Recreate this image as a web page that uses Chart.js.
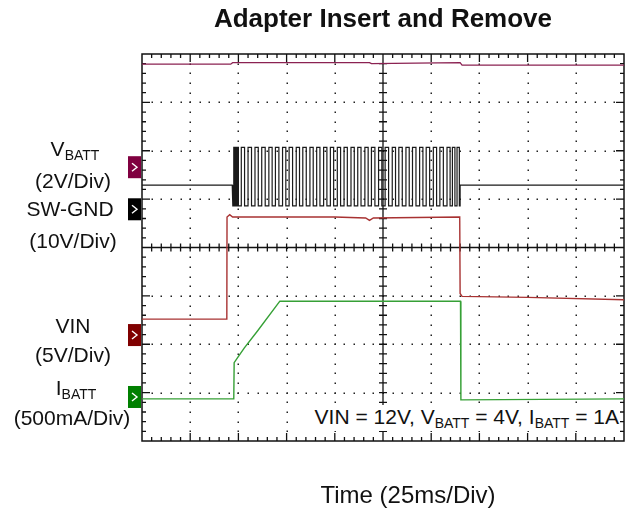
<!DOCTYPE html>
<html>
<head>
<meta charset="utf-8">
<script src="https://cdn.jsdelivr.net/npm/chart.js@4.4.1/dist/chart.umd.min.js"></script>
<style>
  body { margin: 0; background: #fff; }
  #wrap { position: relative; width: 635px; height: 510px; font-family: "Liberation Sans", Arial, sans-serif; color: #111; }
  .lbl { position: absolute; transform: translate(-50%, -50%); white-space: nowrap; font-size: 21px; }
  .lbl sub { font-size: 14px; vertical-align: -4px; }
  #note { position: absolute; right: 15px; top: 405px; font-size: 21px; line-height: 24px; white-space: nowrap; background: #fff; padding: 0 1px 2px 2px; }
  #note sub { font-size: 14px; vertical-align: -4px; line-height: 0; }
  #xt { position: absolute; left: 408px; top: 495px; transform: translate(-50%, -50%); font-size: 24px; white-space: nowrap; }
</style>
</head>
<body>
<div id="wrap">
  <canvas id="scope" width="635" height="510"></canvas>
  <div class="lbl" style="left:75px;top:150px">V<sub>BATT</sub></div>
  <div class="lbl" style="left:73px;top:181px">(2V/Div)</div>
  <div class="lbl" style="left:70px;top:209px">SW-GND</div>
  <div class="lbl" style="left:73px;top:241px">(10V/Div)</div>
  <div class="lbl" style="left:73px;top:326px">VIN</div>
  <div class="lbl" style="left:73px;top:355px">(5V/Div)</div>
  <div class="lbl" style="left:76px;top:389px">I<sub>BATT</sub></div>
  <div class="lbl" style="left:72px;top:418px">(500mA/Div)</div>
  <div id="note">VIN = 12V, V<sub>BATT</sub> = 4V, I<sub>BATT</sub> = 1A</div>
  <div id="xt">Time (25ms/Div)</div>
</div>
<script>
// time in ms (25 ms/div, 10 div), amplitude in screen divisions (8 div)
const vbattT = [0, 46, 47, 118, 119, 165, 166, 250];
const vbattV = [7.79, 7.79, 7.82, 7.82, 7.8, 7.82, 7.77, 7.77];

const swBase = 5.29;
const swLow = 4.86;
const swHigh = 6.07;
const swRise = [47.6, 48.5, 49.4, 51.5, 55.0, 58.6, 62.1, 65.8, 69.2, 72.9, 76.3, 80.0, 83.4, 87.1, 90.6, 94.2, 97.7, 101.3,
  104.8, 108.4, 111.9, 115.6, 119.0, 122.7, 126.1, 129.8, 133.2, 136.9, 140.3, 144.0, 147.4, 151.1, 154.5, 158.2, 161.0, 163.4];
const swFall = [48.0, 48.9, 50.0, 53.2, 56.8, 60.3, 63.9, 67.5, 71.0, 74.6, 78.1, 81.7, 85.2, 88.8, 92.3, 95.9, 99.4, 103.0,
  106.5, 110.1, 113.6, 117.3, 120.8, 124.4, 127.9, 131.5, 135.0, 138.6, 142.1, 145.7, 149.2, 152.8, 156.3, 159.8, 162.3, 164.6];
const swStart = 46.8;
const swEnd = 165.0;

const vinT = [0, 44.0, 44.1, 45.5, 47, 100, 116, 118, 120, 164.8, 165.0, 166, 200, 250];
const vinV = [2.52, 2.52, 4.63, 4.68, 4.63, 4.63, 4.61, 4.56, 4.61, 4.63, 3.05, 2.99, 2.97, 2.92];

const ibattT = [0, 47.6, 47.8, 49.5, 53, 60, 71.5, 165.2, 165.4, 250];
const ibattV = [0.87, 0.87, 1.62, 1.72, 1.92, 2.28, 2.89, 2.89, 0.85, 0.87];

// channel ground markers (div) and colours
const markers = [
  { y: 5.66, color: '#800040' },
  { y: 4.79, color: '#000000' },
  { y: 2.19, color: '#800000' },
  { y: 0.91, color: '#008000' }
];

function pts(t, v) { return t.map((x, i) => ({ x: x, y: v[i] })); }

const swPts = [{ x: 0, y: swBase }, { x: swStart, y: swBase }, { x: swStart + 0.3, y: swLow }];
swRise.forEach((r, i) => {
  swPts.push({ x: r, y: swLow }, { x: r, y: swHigh }, { x: swFall[i], y: swHigh }, { x: swFall[i], y: swLow });
});
swPts.push({ x: swEnd, y: swLow }, { x: swEnd, y: swBase }, { x: 250, y: swBase });

const scopeGrid = {
  id: 'scopeGrid',
  beforeDatasetsDraw(chart) {
    const { ctx, scales: { x, y } } = chart;
    const X = v => x.getPixelForValue(v), Y = v => y.getPixelForValue(v);
    ctx.save();
    ctx.fillStyle = '#222';
    // dotted major lines
    for (let i = 1; i < 10; i++) {
      if (i === 5) continue;
      for (let k = 1; k < 40; k++) ctx.fillRect(Math.round(X(i * 25)) - 0.5, Math.round(Y(k * 0.2)) - 0.5, 1.5, 1.5);
    }
    for (let j = 1; j < 8; j++) {
      if (j === 4) continue;
      for (let k = 1; k < 50; k++) ctx.fillRect(Math.round(X(k * 5)) - 0.5, Math.round(Y(j)) - 0.5, 1.5, 1.5);
    }
    ctx.strokeStyle = '#111';
    ctx.lineWidth = 1.3;
    ctx.beginPath();
    // centre cross
    ctx.moveTo(X(0), Y(4)); ctx.lineTo(X(250), Y(4));
    ctx.moveTo(X(125), Y(0)); ctx.lineTo(X(125), Y(8));
    // ticks on centre lines and frame
    for (let k = 1; k < 50; k++) {
      const px = X(k * 5), L = k % 5 === 0 ? 8 : 4;
      ctx.moveTo(px, Y(4) - 4); ctx.lineTo(px, Y(4) + 4);
      ctx.moveTo(px, Y(8)); ctx.lineTo(px, Y(8) + L);
      ctx.moveTo(px, Y(0)); ctx.lineTo(px, Y(0) - L);
    }
    for (let k = 1; k < 40; k++) {
      const py = Y(k * 0.2), L = k % 5 === 0 ? 8 : 4;
      ctx.moveTo(X(125) - 4, py); ctx.lineTo(X(125) + 4, py);
      ctx.moveTo(X(0), py); ctx.lineTo(X(0) + L, py);
      ctx.moveTo(X(250), py); ctx.lineTo(X(250) - L, py);
    }
    ctx.stroke();
    ctx.lineWidth = 1.5;
    ctx.strokeRect(X(0), Y(8), X(250) - X(0), Y(0) - Y(8));
    // channel markers
    markers.forEach(m => {
      const py = Y(m.y), px = X(0);
      ctx.fillStyle = m.color;
      ctx.fillRect(px - 14, py - 11, 13, 22);
      ctx.strokeStyle = '#fff';
      ctx.lineWidth = 1.4;
      ctx.beginPath();
      ctx.moveTo(px - 10, py - 4); ctx.lineTo(px - 5, py); ctx.lineTo(px - 10, py + 4);
      ctx.stroke();
    });
    ctx.restore();
  }
};

new Chart(document.getElementById('scope'), {
  type: 'line',
  data: {
    datasets: [
      { label: 'VBATT', data: pts(vbattT, vbattV), borderColor: '#8b2252', borderWidth: 1.3 },
      { label: 'SW-GND', data: swPts, borderColor: '#1a1a1a', borderWidth: 1.2 },
      { label: 'VIN', data: pts(vinT, vinV), borderColor: '#a83232', borderWidth: 1.4 },
      { label: 'IBATT', data: pts(ibattT, ibattV), borderColor: '#36a036', borderWidth: 1.4 }
    ]
  },
  options: {
    responsive: false,
    animation: false,
    layout: { padding: { left: 142, right: 11, top: 0, bottom: 69 } },
    elements: { point: { radius: 0 }, line: { tension: 0 } },
    scales: {
      x: { type: 'linear', min: 0, max: 250, display: false },
      y: { min: 0, max: 8, display: false }
    },
    plugins: {
      legend: { display: false },
      tooltip: { enabled: false },
      title: {
        display: true,
        text: 'Adapter Insert and Remove',
        color: '#111',
        font: { family: '"Liberation Sans", Arial, sans-serif', size: 26, weight: 'bold', lineHeight: 1.2 },
        padding: { top: 4.4, bottom: 18.4 }
      }
    }
  },
  plugins: [scopeGrid]
});
</script>
</body>
</html>
